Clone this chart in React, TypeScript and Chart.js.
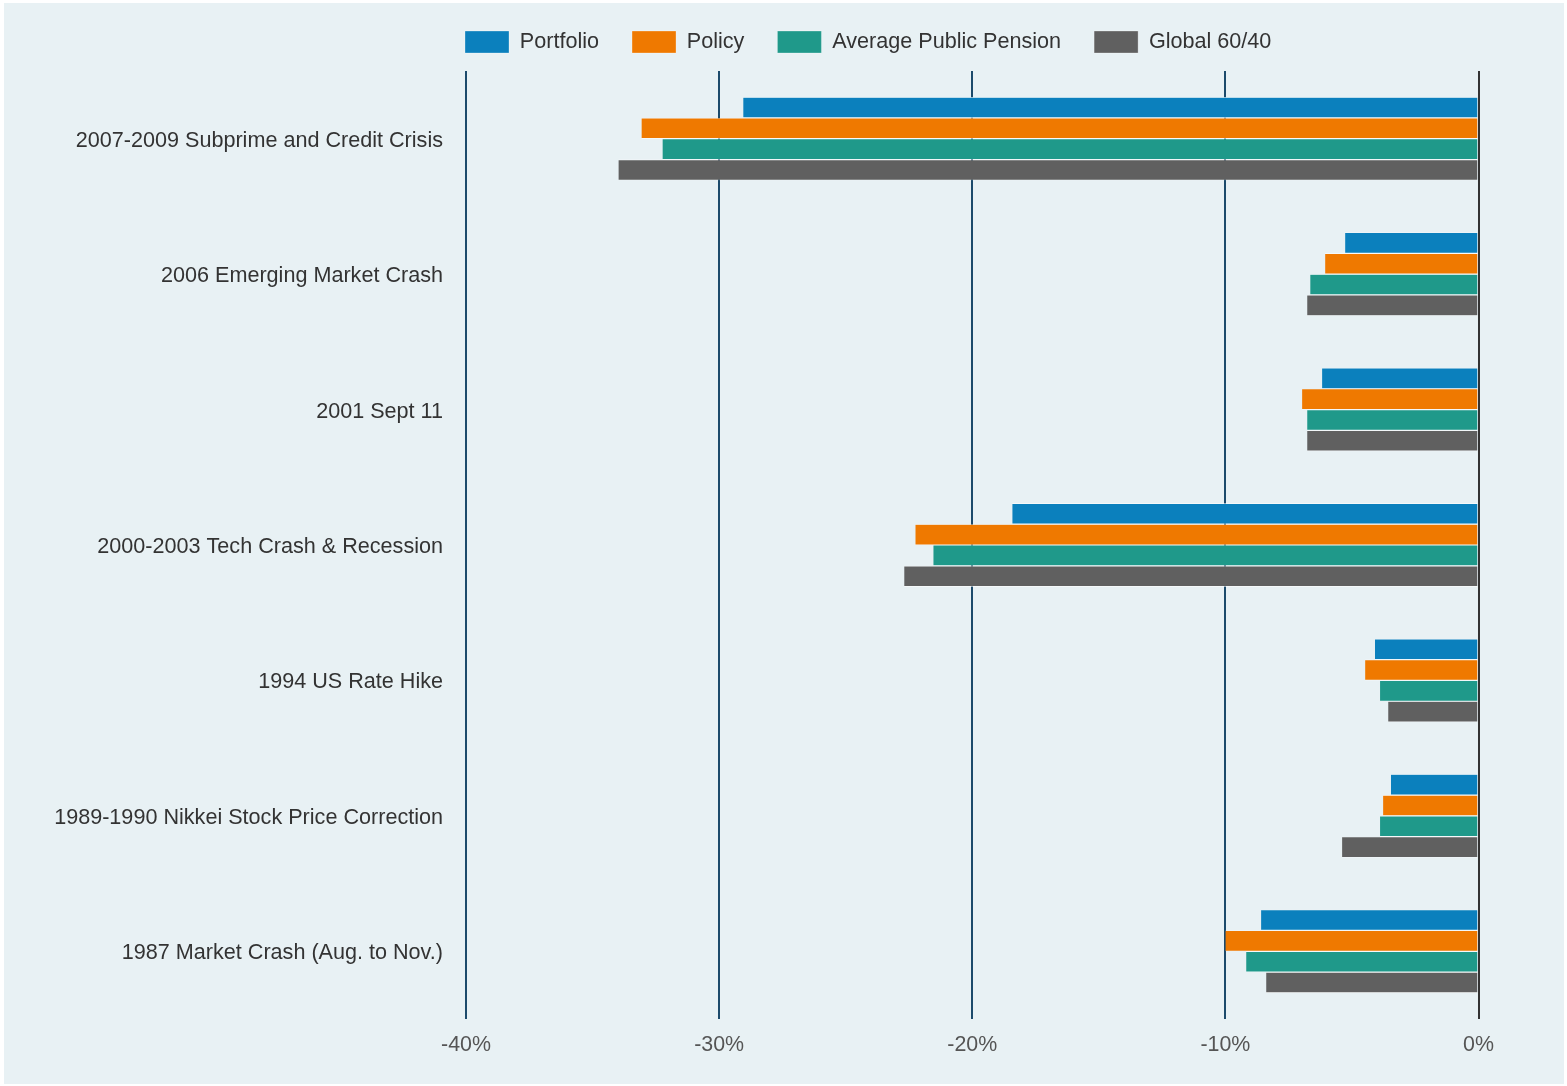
import React, { useEffect, useRef } from "react";
import { Chart, registerables } from "chart.js";

Chart.register(...registerables);

const categories = [
  "2007-2009 Subprime and Credit Crisis",
  "2006 Emerging Market Crash",
  "2001 Sept 11",
  "2000-2003 Tech Crash & Recession",
  "1994 US Rate Hike",
  "1989-1990 Nikkei Stock Price Correction",
  "1987 Market Crash (Aug. to Nov.)",
];

const seriesNames = ["Portfolio", "Policy", "Average Public Pension", "Global 60/40"];

const portfolio = [-29.05, -5.27, -6.18, -18.42, -4.09, -3.46, -8.59];
const policy = [-33.07, -6.06, -6.97, -22.25, -4.48, -3.77, -10.0];
const avgPublicPension = [-32.24, -6.65, -6.77, -21.54, -3.89, -3.89, -9.18];
const global6040 = [-33.98, -6.77, -6.77, -22.69, -3.57, -5.39, -8.39];

const xTicks = [-40, -30, -20, -10, 0];

const colors = ["#0b80bd", "#ef7900", "#1f998a", "#606060"];

const FONT = "'Liberation Sans', Arial, sans-serif";

const legendPlacer = {
  id: "legendPlacer",
  afterLayout(chart: any) {
    const lg = chart.legend;
    if (!lg) return;
    const pad = lg.options.labels.padding;
    const ca = chart.chartArea;
    const h = lg.height;
    lg.left = ca.left - 1 - pad;
    lg.right = chart.width;
    lg.width = lg.right - lg.left;
    lg.top = ca.top - 40 - pad;
    lg.bottom = lg.top + h;
  },
};

export default function App() {
  const ref = useRef<HTMLCanvasElement | null>(null);

  useEffect(() => {
    if (!ref.current) return;
    const seriesData = [portfolio, policy, avgPublicPension, global6040];
    const chart = new Chart(ref.current, {
      type: "bar",
      data: {
        labels: categories,
        datasets: seriesNames.map((name, i) => ({
          label: name,
          data: seriesData[i],
          backgroundColor: colors[i],
          borderColor: "#ffffff",
          borderWidth: { top: 0.6, bottom: 0.6, left: 0, right: 0 },
          borderSkipped: false,
          categoryPercentage: 0.615,
          barPercentage: 1,
        })),
      },
      plugins: [legendPlacer],
      options: {
        indexAxis: "y",
        animation: false,
        responsive: false,
        maintainAspectRatio: false,
        layout: { padding: { top: 3, right: 85.5, bottom: 27.3, left: 0 } },
        plugins: {
          legend: {
            position: "top",
            align: "start",
            labels: {
              boxWidth: 44,
              boxHeight: 22,
              padding: 33,
              color: "#333333",
              font: { family: FONT, size: 21.6 },
            },
          },
          tooltip: { enabled: false },
        },
        scales: {
          x: {
            min: -40,
            max: 0,
            afterBuildTicks: (scale: any) => {
              scale.ticks = xTicks.map((v) => ({ value: v }));
            },
            afterFit: (scale: any) => {
              scale.height = 37.7;
            },
            ticks: {
              padding: 13.7,
              color: "#555555",
              font: { family: FONT, size: 21.4 },
              callback: (v: any) => `${v}%`,
            },
            grid: {
              drawTicks: false,
              lineWidth: 2,
              color: (ctx: any) => (ctx.tick && ctx.tick.value === 0 ? "#333333" : "#1c4a6b"),
            },
            border: { display: false },
          },
          y: {
            afterFit: (scale: any) => {
              scale.width = 462;
            },
            ticks: {
              padding: 23,
              labelOffset: 2,
              color: "#333333",
              font: { family: FONT, size: 21.6 },
            },
            grid: { display: false, drawTicks: false },
            border: { display: false },
          },
        },
      },
    });
    return () => chart.destroy();
  }, []);

  return (
    <div
      style={{
        position: "fixed",
        left: 4,
        top: 3,
        width: 1560,
        height: 1081,
        background: "#e8f1f4",
      }}
    >
      <canvas ref={ref} width={1560} height={1081} style={{ display: "block", width: 1560, height: 1081 }} />
    </div>
  );
}
